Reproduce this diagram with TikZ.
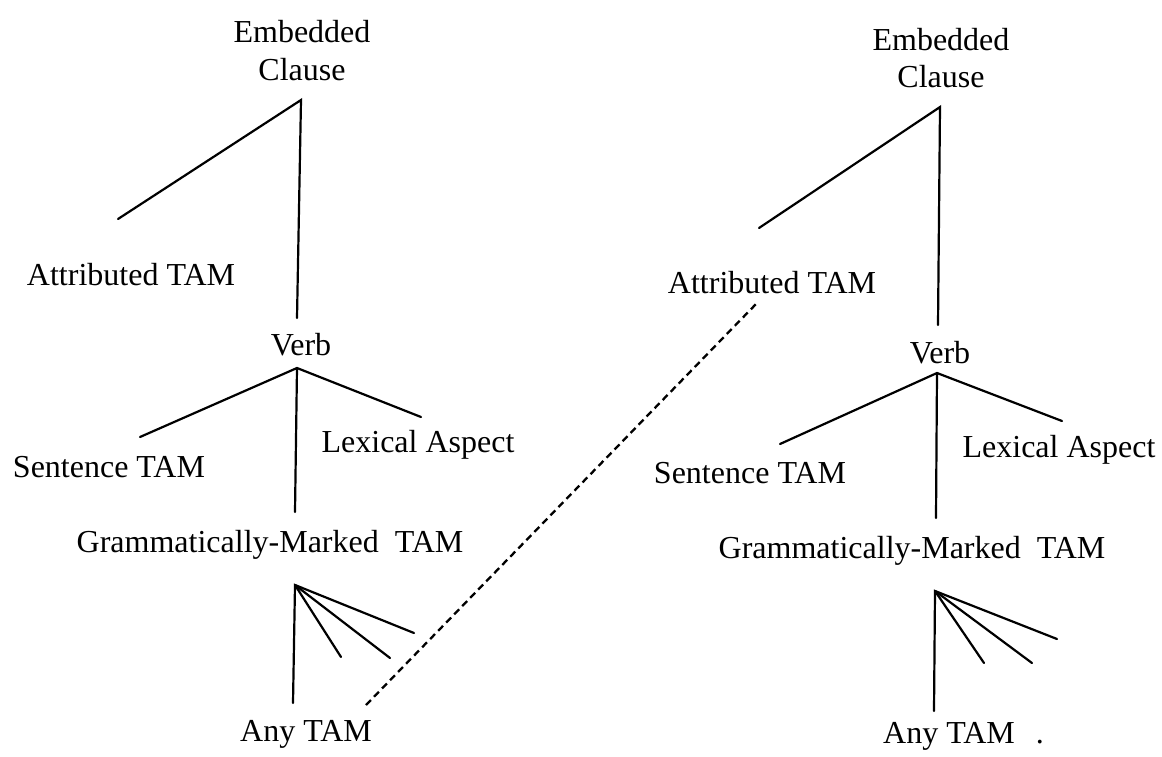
\documentclass[tikz,border=0pt]{standalone}
\usepackage{fontspec}
\setmainfont{Liberation Serif}
\begin{document}
\begin{tikzpicture}[x=1pt,y=-1pt,
  lbl/.style={anchor=base,inner sep=0pt,font=\fontsize{32}{38}\selectfont},
  branch/.style={line width=2.2pt,line cap=round},
  link/.style={line width=2.3pt,dash pattern=on 7pt off 4.5pt}]
\useasboundingbox (0,0) rectangle (1162,756);

% ---------- left tree ----------
\node[lbl] (embL)  at (302,42)  {Embedded};
\node[lbl] (clsL)  at (302,80)  {Clause};
\node[lbl] (attL)  at (131,285) {Attributed TAM};
\node[lbl] (verbL) at (301,355) {Verb};
\node[lbl] (sentL) at (109,477) {Sentence TAM};
\node[lbl] (lexL)  at (418,452) {Lexical Aspect};
\node[lbl] (gramL) at (270,552) {Grammatically-Marked\ \ TAM};
\node[lbl] (anyL)  at (306,741) {Any TAM};

\coordinate (topL)  at (301,100);
\coordinate (attLe) at (118,219);
\coordinate (vbLe)  at (297,318);
\coordinate (vaL)   at (297,368);
\coordinate (snLe)  at (140,437);
\coordinate (lxLe)  at (421,417);
\coordinate (grLe)  at (295,512);
\coordinate (faL)   at (295,585);
\coordinate (f0L)   at (293,703);
\coordinate (f1L)   at (341,657);
\coordinate (f2L)   at (390,658);
\coordinate (f3L)   at (414,633);

\draw[branch] (attLe) -- (topL) -- (vbLe);
\draw[branch] (snLe) -- (vaL) -- (lxLe);
\draw[branch] (vaL) -- (grLe);
\draw[branch] (f0L) -- (faL) -- (f3L);
\draw[branch] (faL) -- (f1L);
\draw[branch] (faL) -- (f2L);

% ---------- right tree ----------
\node[lbl] (embR)  at (941,50)  {Embedded};
\node[lbl] (clsR)  at (941,87)  {Clause};
\node[lbl] (attR)  at (772,293) {Attributed TAM};
\node[lbl] (verbR) at (940,363) {Verb};
\node[lbl] (sentR) at (750,483) {Sentence TAM};
\node[lbl] (lexR)  at (1059,457) {Lexical Aspect};
\node[lbl] (gramR) at (912,558) {Grammatically-Marked\ \ TAM};
\node[lbl,anchor=base west] (anyR) at (883,743) {Any TAM\hspace{21pt}.};

\coordinate (topR)  at (940,107);
\coordinate (attRe) at (759,228);
\coordinate (vbRe)  at (938,325);
\coordinate (vaR)   at (937,373);
\coordinate (snRe)  at (780,444);
\coordinate (lxRe)  at (1062,421);
\coordinate (grRe)  at (936,518);
\coordinate (faR)   at (935,591);
\coordinate (f0R)   at (934,711);
\coordinate (f1R)   at (984,663);
\coordinate (f2R)   at (1032,663);
\coordinate (f3R)   at (1057,639);

\draw[branch] (attRe) -- (topR) -- (vbRe);
\draw[branch] (snRe) -- (vaR) -- (lxRe);
\draw[branch] (vaR) -- (grRe);
\draw[branch] (f0R) -- (faR) -- (f3R);
\draw[branch] (faR) -- (f1R);
\draw[branch] (faR) -- (f2R);

% ---------- dashed link between the trees ----------
\coordinate (lkA) at (366,705);
\coordinate (lkB) at (757,303);
\draw[link] (lkA) -- (lkB);
\end{tikzpicture}
\end{document}
